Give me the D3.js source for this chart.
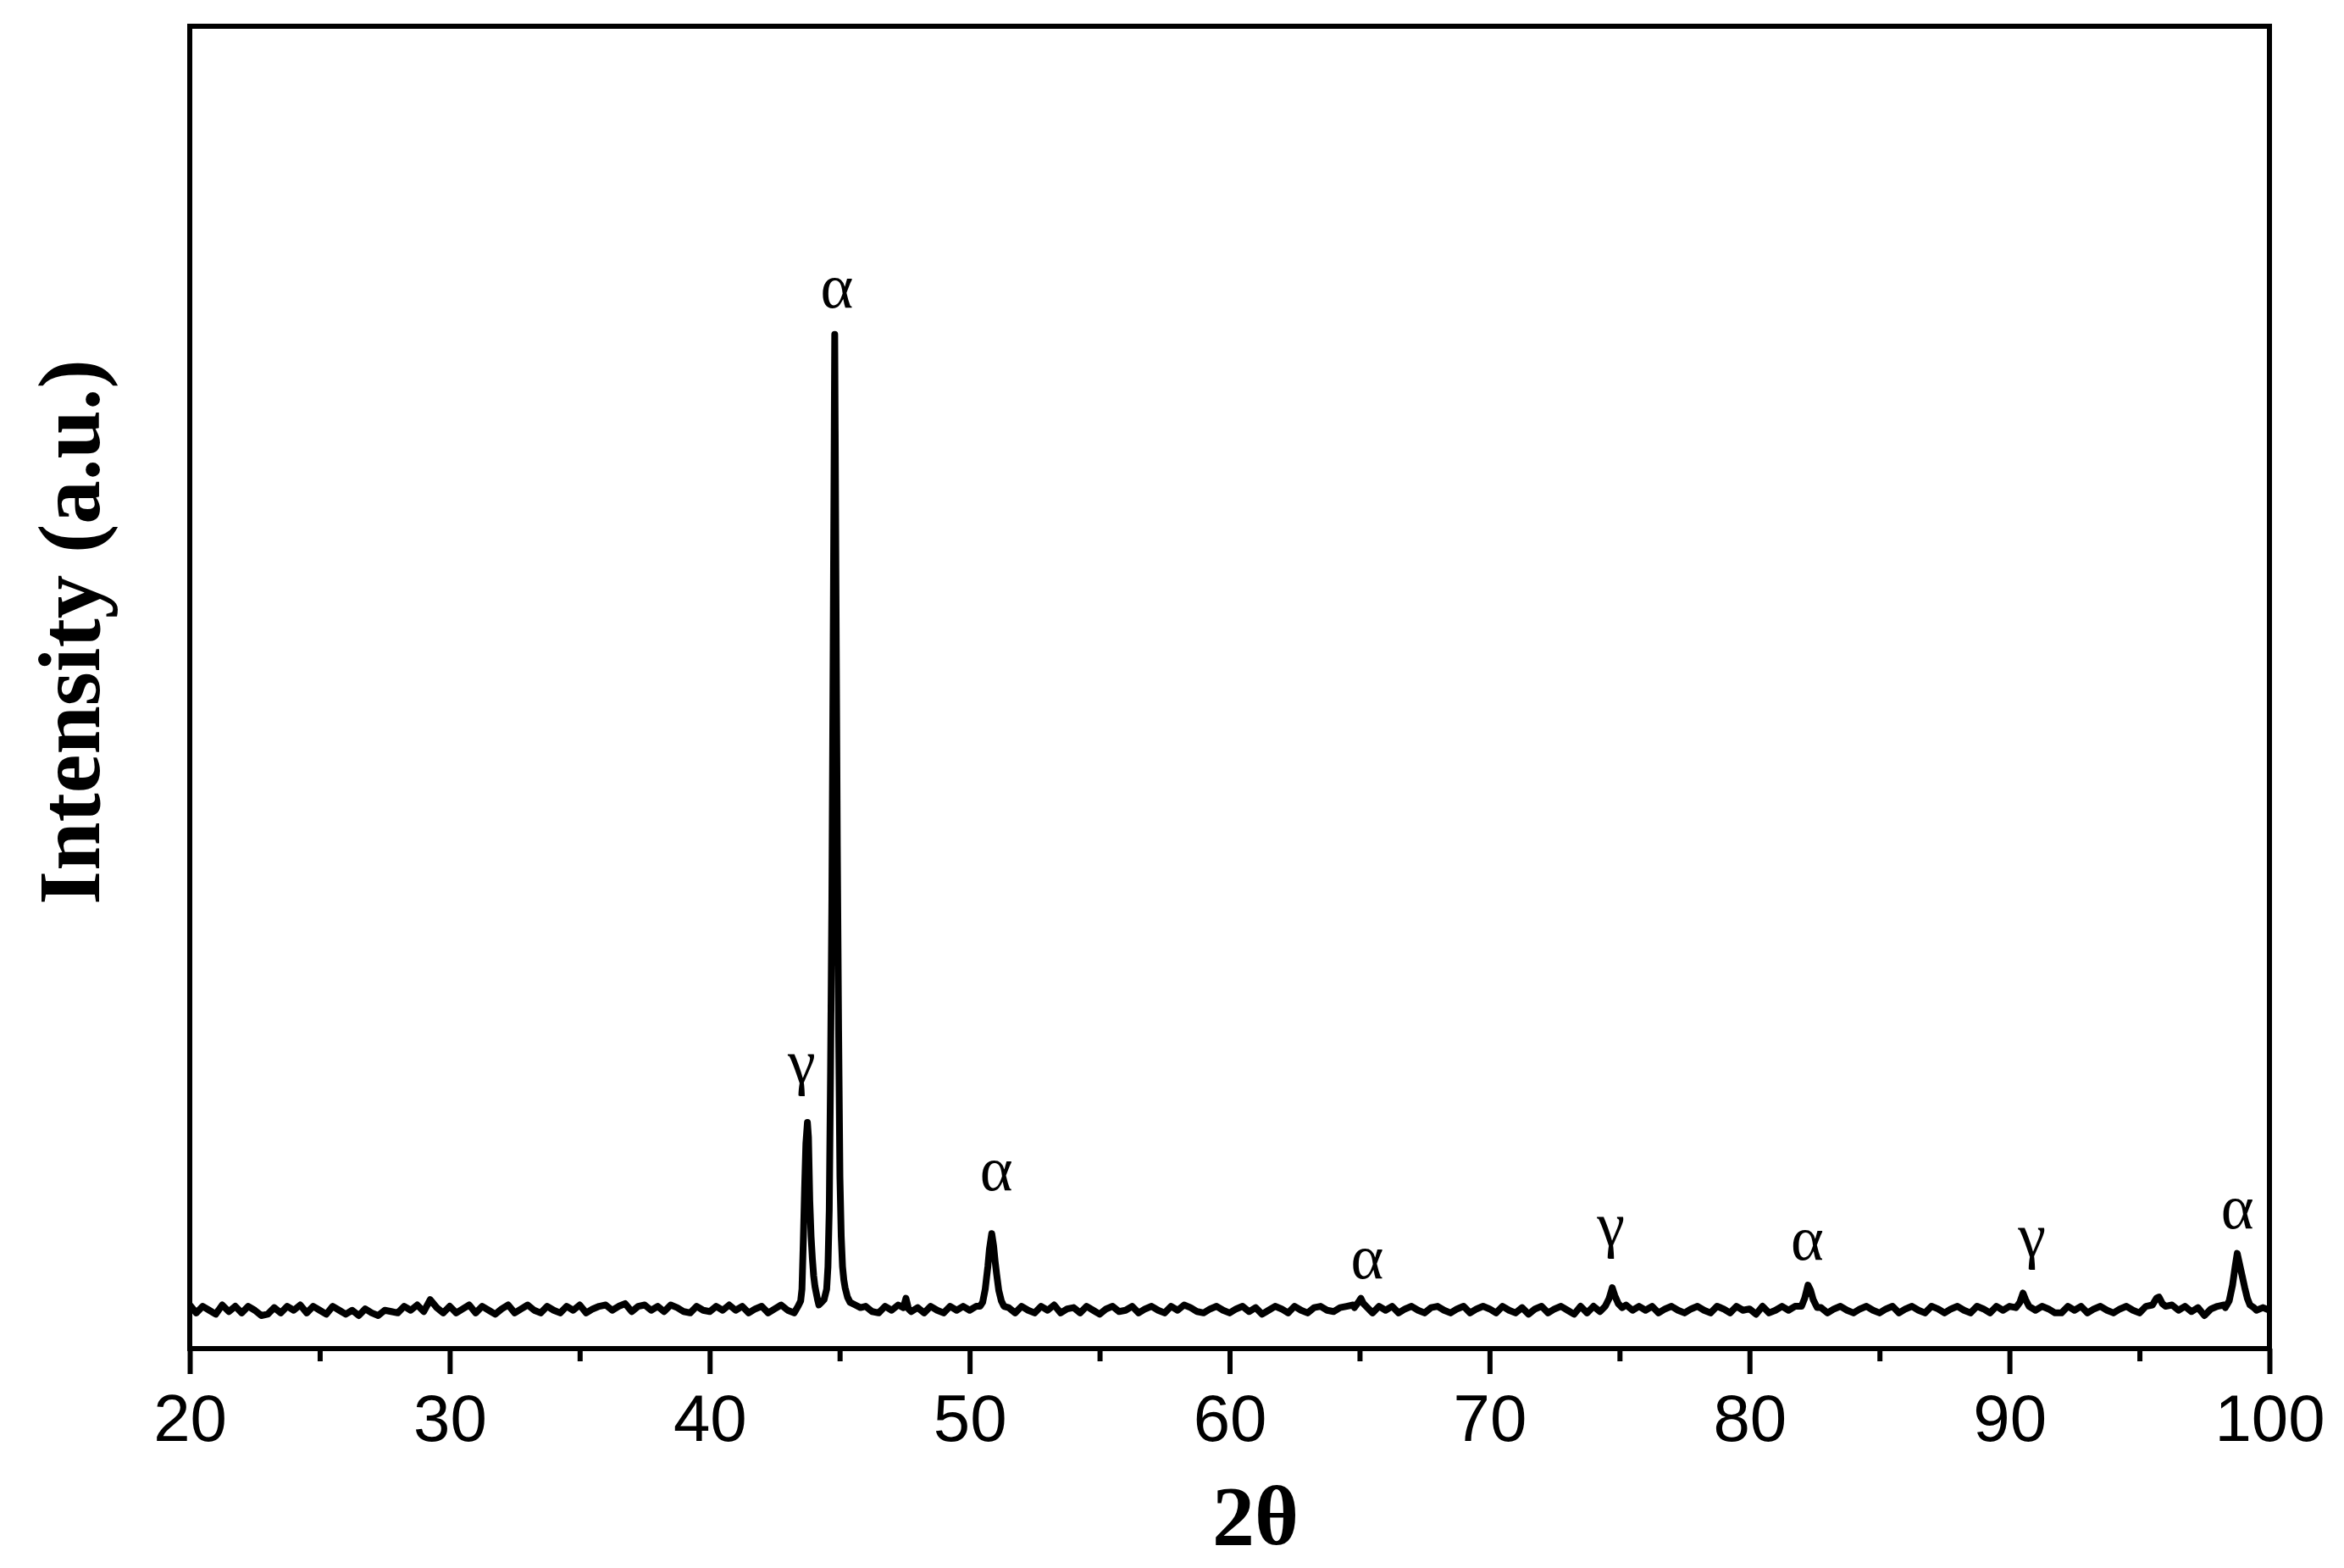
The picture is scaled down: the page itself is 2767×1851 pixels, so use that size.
<!DOCTYPE html>
<html>
<head>
<meta charset="utf-8">
<title>XRD pattern</title>
<script src="https://d3js.org/d3.v7.min.js"></script>
<style>
  body { margin: 0; background: #fff; }
  svg { display: block; }
</style>
</head>
<body>
<div id="chart"></div>
<script>
// background scan, 20..100 deg, one value every 0.25 deg
const bgStart = 20, bgStep = 0.25;
const background = [
  33,27,32,29,26,33,28,32,  27,32,29,25,26,31,27,32,
  29,33,27,32,29,26,32,29,  26,29,25,30,27,25,29,28,
  27,32,29,33,28,37,31,27,  32,27,30,33,27,32,29,26,
  30,33,27,30,33,29,27,32,  29,27,32,29,33,27,30,32,
  33,29,32,34,28,32,33,29,  32,28,33,31,28,27,32,29,
  28,32,29,33,29,32,27,30,  32,27,30,33,29,27,32,33,
  35,38,40,42,36,33,32,31,  32,28,27,32,29,33,31,28,
  31,27,32,29,27,32,29,32,  29,32,33,36,40,34,31,27,
  32,29,27,32,29,33,27,30,  31,27,32,29,26,30,32,28,
  29,32,27,30,32,29,27,32,  29,33,31,28,27,30,32,29,
  27,30,32,28,31,26,29,32,  30,27,32,29,27,31,32,29,
  28,31,32,33,34,30,27,32,  29,32,27,30,32,29,27,31,
  32,29,27,30,32,27,30,32,  30,27,32,29,27,31,26,30,
  32,27,30,32,29,26,32,27,  32,28,33,38,34,33,29,32,
  29,32,27,30,32,29,27,30,  32,29,27,32,30,27,32,29,
  30,26,32,27,29,32,29,32,  33,40,38,31,27,30,32,29,
  27,30,32,29,27,30,32,27,  30,32,29,27,32,30,27,30,
  32,29,27,32,30,27,32,29,  32,33,38,32,29,32,30,27,
  27,32,29,32,27,30,32,29,  27,30,32,29,27,32,35,36,
  32,33,29,32,28,31,25,30,  32,33,40,65,45,32,29,31,
  29
];

// peak regions read more finely: [2theta, intensity]
const peakGammaAlphaMain = [
  [43.40,32],[43.50,36],[43.55,45],[43.60,80],[43.65,120],[43.70,155],[43.76,171],
  [43.80,160],[43.85,112],[43.90,85],[43.95,68],[44.00,55],[44.05,47],[44.10,42],
  [44.15,37],[44.20,33],[44.25,34],[44.30,35],[44.40,37],[44.50,45],[44.55,62],
  [44.60,105],[44.65,210],[44.70,340],[44.75,530],[44.81,767],[44.86,570],[44.91,380],
  [44.96,240],[45.01,130],[45.06,85],[45.11,62],[45.16,52],[45.21,46],[45.30,39],
  [45.40,35],[45.60,33],[45.80,31]
];
const spike476 = [[47.45,31],[47.55,38],[47.65,30]];
const alpha200 = [
  [50.40,32],[50.50,35],[50.60,45],[50.70,62],[50.76,75],[50.85,87],[50.92,78],
  [50.98,66],[51.04,56],[51.12,44],[51.22,36],[51.32,32]
];
const alpha211 = [[64.80,31],[64.95,35],[65.05,38],[65.15,34],[65.30,31]];
const gamma220 = [[74.45,32],[74.60,38],[74.72,46],[74.82,40],[74.95,34],[75.10,31]];
const alpha220 = [[82.00,32],[82.12,38],[82.25,48],[82.35,44],[82.45,37],[82.60,31]];
const gamma311 = [[90.25,31],[90.40,35],[90.52,42],[90.62,37],[90.75,32]];
const bump957 = [[95.50,33],[95.65,38],[95.75,39],[95.88,34]];
const alpha310 = [
  [98.30,31],[98.45,36],[98.58,48],[98.68,62],[98.76,72],[98.85,64],[98.95,55],
  [99.05,46],[99.15,38],[99.25,33],[99.40,31]
];

// phase labels: symbol, 2theta, intensity where the label sits
const phaseLabels = [
  ["α", 44.89, 787], ["γ", 43.54, 201], ["α", 51.03, 120], ["α", 65.29, 53],
  ["γ", 74.67, 78], ["α", 82.22, 67], ["γ", 90.86, 70], ["α", 98.77, 91]
];

const majorTicks = [20, 30, 40, 50, 60, 70, 80, 90, 100];
const minorTicks = [25, 35, 45, 55, 65, 75, 85, 95];

const W = 2767, H = 1851;
const plotL = 224, plotR = 2679, plotT = 31, plotB = 1592;

const x = d3.scaleLinear().domain([20, 100]).range([plotL, plotR]);
const y = d3.scaleLinear().domain([0, 1000]).range([plotB, plotT]);

// merge background with the finer peak segments
const peakSets = [peakGammaAlphaMain, spike476, alpha200, alpha211, gamma220,
                  alpha220, gamma311, bump957, alpha310];
const ranges = peakSets.map(p => [p[0][0], p[p.length - 1][0]]);
let scan = background.map((v, i) => [bgStart + i * bgStep, v])
  .filter(d => !ranges.some(r => d[0] >= r[0] && d[0] <= r[1]));
peakSets.forEach(p => { scan = scan.concat(p); });
scan.sort((a, b) => a[0] - b[0]);

const svg = d3.select("#chart").append("svg")
  .attr("width", W).attr("height", H);

svg.append("rect").attr("width", W).attr("height", H).attr("fill", "#fff");

// trace
svg.append("path")
  .datum(scan)
  .attr("fill", "none")
  .attr("stroke", "#000")
  .attr("stroke-width", 8)
  .attr("stroke-linejoin", "round")
  .attr("d", d3.line().x(d => x(d[0])).y(d => y(d[1])));

// frame
svg.append("rect")
  .attr("x", plotL).attr("y", plotT)
  .attr("width", plotR - plotL).attr("height", plotB - plotT)
  .attr("fill", "none").attr("stroke", "#000").attr("stroke-width", 6);

// bottom axis
const gx = svg.append("g").attr("transform", `translate(0,${plotB})`)
  .call(d3.axisBottom(x).tickValues(majorTicks).tickSize(30).tickPadding(24)
    .tickFormat(d3.format("d")));
gx.select(".domain").remove();
gx.selectAll(".tick line").attr("stroke-width", 6);
gx.selectAll(".tick text")
  .attr("font-family", "'Liberation Sans', Arial, sans-serif")
  .attr("font-size", 78).attr("fill", "#000");

svg.append("g").attr("transform", `translate(0,${plotB})`)
  .call(d3.axisBottom(x).tickValues(minorTicks).tickSize(15).tickFormat(""))
  .call(g => g.select(".domain").remove())
  .selectAll(".tick line").attr("stroke-width", 6);

// axis titles
svg.append("text")
  .attr("x", 1482).attr("y", 1823)
  .attr("text-anchor", "middle")
  .attr("font-family", "'Liberation Serif', 'Times New Roman', serif")
  .attr("font-weight", "bold").attr("font-size", 100)
  .text("2θ");

svg.append("text")
  .attr("transform", "translate(117,746) rotate(-90)")
  .attr("text-anchor", "middle")
  .attr("font-family", "'Liberation Serif', 'Times New Roman', serif")
  .attr("font-weight", "bold").attr("font-size", 103)
  .text("Intensity (a.u.)");

// phase labels
svg.selectAll(".phase").data(phaseLabels).enter().append("text")
  .attr("class", "phase")
  .attr("x", d => x(d[1])).attr("y", d => y(d[2]))
  .attr("text-anchor", "middle")
  .attr("font-family", "'Liberation Serif', 'Times New Roman', serif")
  .attr("font-size", 74)
  .text(d => d[0]);
</script>
</body>
</html>
